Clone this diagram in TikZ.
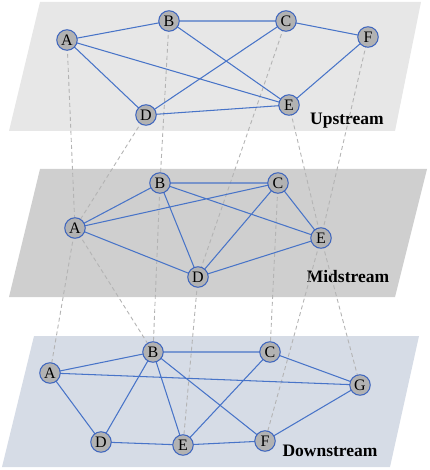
\documentclass[tikz,border=0pt]{standalone}
\usepackage{fontspec}
\setmainfont{Liberation Serif}
\begin{document}
\begin{tikzpicture}[x=1pt,y=-1pt,
  nd/.style={circle,draw=nodeblue,line width=1pt,fill=nodegray,minimum size=20.5pt,inner sep=0pt,font=\fontsize{16}{16}\selectfont},
  ed/.style={draw=edgeblue,line width=1.05pt},
  dl/.style={draw=dashgray,dashed,dash pattern=on 4pt off 3pt,line width=0.9pt},
  lbl/.style={font=\fontsize{17.5}{18}\selectfont\bfseries,inner sep=0pt}]
\definecolor{nodeblue}{RGB}{60,100,190}
\definecolor{edgeblue}{RGB}{72,116,200}
\definecolor{nodegray}{RGB}{178,178,178}
\definecolor{dashgray}{RGB}{180,180,180}
\definecolor{upc}{RGB}{231,231,231}
\definecolor{midc}{RGB}{207,207,207}
\definecolor{downc}{RGB}{214,220,230}
\useasboundingbox (0,0) rectangle (429,470);
% planes
\fill[upc] (40,2) -- (421,2) -- (395,131) -- (9,131) -- cycle;
\fill[midc] (40,169) -- (427,169) -- (395,297) -- (9,297) -- cycle;
\fill[downc] (34,336) -- (419,336) -- (390,467) -- (2,467) -- cycle;
% labels
\node[lbl] (lu) at (347,121) {Upstream};
\node[lbl] (lm) at (348,277) {Midstream};
\node[lbl] (ld) at (330,451) {Downstream};
% coordinates of nodes
\coordinate (uA) at (67,40);  \coordinate (uB) at (169,21); \coordinate (uC) at (286,21);
\coordinate (uF) at (368,37); \coordinate (uD) at (146,115); \coordinate (uE) at (289,105);
\coordinate (mA) at (75,228); \coordinate (mB) at (160,183); \coordinate (mC) at (278,183);
\coordinate (mE) at (321,238); \coordinate (mD) at (198,277);
\coordinate (dA) at (50,373); \coordinate (dB) at (153,352); \coordinate (dC) at (270,352);
\coordinate (dG) at (360,385); \coordinate (dD) at (101,442); \coordinate (dE) at (183,445);
\coordinate (dF) at (265,441);
% dashed inter-layer links
\draw[dl] (uA) -- (mA);
\draw[dl] (uD) -- (mA);
\draw[dl] (uB) -- (mB);
\draw[dl] (uC) -- (mD);
\draw[dl] (uE) -- (mE);
\draw[dl] (uF) -- (mE);
\draw[dl] (mA) -- (dA);
\draw[dl] (mA) -- (dB);
\draw[dl] (mB) -- (dB);
\draw[dl] (mD) -- (dE);
\draw[dl] (mC) -- (dC);
\draw[dl] (mE) -- (dF);
\draw[dl] (mE) -- (dG);
% upstream edges
\path[ed] (uA) -- (uB) (uB) -- (uC) (uC) -- (uF) (uA) -- (uD) (uA) -- (uE)
  (uB) -- (uE) (uC) -- (uD) (uD) -- (uE) (uE) -- (uF);
% midstream edges
\path[ed] (mA) -- (mB) (mA) -- (mC) (mA) -- (mD) (mB) -- (mC) (mB) -- (mD)
  (mB) -- (mE) (mC) -- (mD) (mC) -- (mE) (mD) -- (mE);
% downstream edges
\path[ed] (dA) -- (dB) (dA) -- (dG) (dA) -- (dD) (dB) -- (dC) (dB) -- (dD)
  (dB) -- (dE) (dB) -- (dF) (dC) -- (dE) (dC) -- (dG) (dD) -- (dE)
  (dE) -- (dF) (dF) -- (dG);
% nodes
\foreach \n/\t in {uA/A,uB/B,uC/C,uD/D,uE/E,uF/F,mA/A,mB/B,mC/C,mD/D,mE/E,
  dA/A,dB/B,dC/C,dD/D,dE/E,dF/F,dG/G}
  \node[nd] (n\n) at (\n) {\t};
\end{tikzpicture}
\end{document}
